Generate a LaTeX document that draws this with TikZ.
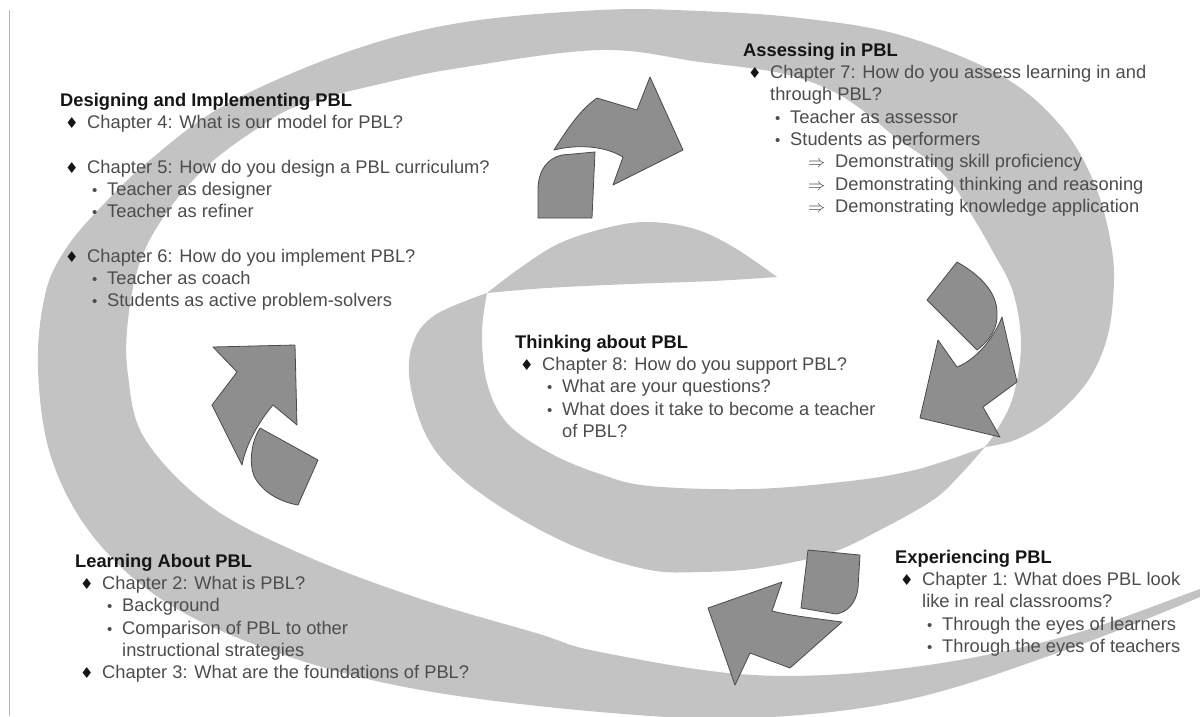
\documentclass[tikz,border=0pt]{standalone}
\usepackage{fontspec}
\setmainfont{Liberation Sans}
\newfontfamily\symfont{DejaVu Sans}

\definecolor{bandgray}{HTML}{C3C3C3}
\definecolor{arrowfill}{HTML}{8E8E8E}
\definecolor{arrowedge}{HTML}{4A4A4A}
\definecolor{bodytext}{HTML}{4C4C4C}
\definecolor{headtext}{HTML}{151515}
\definecolor{rulegray}{HTML}{B5B5B5}

% list markers and indents used in the text blocks
\newcommand\pbhead[1]{{\color{headtext}\bfseries #1}}
\newcommand\pbdia{\makebox[27pt][l]{\hspace*{5pt}{\color{headtext}\symfont\fontsize{15}{15}\selectfont ♦}}}
\newcommand\pbdot{\hspace*{32pt}\makebox[15pt][l]{{\fontsize{15}{15}\selectfont •}}}
\newcommand\pbimp{\hspace*{65pt}\makebox[27pt][l]{$\Rightarrow$}}
\newcommand\pbcont{\hspace*{27pt}}
\newcommand\pbsubcont{\hspace*{47pt}}

\begin{document}
\begin{tikzpicture}[x=1pt,y=-1pt,
  band/.style={fill=bandgray},
  arw/.style={fill=arrowfill,draw=arrowedge,line width=0.8pt,line join=round},
  blk/.style={anchor=north west,inner sep=0pt,align=left,text=bodytext,
    font=\fontsize{18.3}{22.3}\selectfont}]
\useasboundingbox (0,0) rectangle (1200,716);

% thin rule along the left edge
\coordinate (ruletop) at (9,10);
\coordinate (rulebot) at (9,716);
\draw[rulegray,line width=1pt] (ruletop) -- (rulebot);

% outer loop of the swirl: from the thin tail at the lower right, round the
% bottom, up the left, over the top and down the right to the twist
\fill[band] plot[smooth,tension=0.6] coordinates {
  (1270,563) (1200,597) (1060,652) (906,700) (750,718) (600,712) (421,690)
  (287,656) (172,606) (96,540) (52,460) (38,370) (45,295) (65,250) (100,208)
  (150,160) (225,105) (344,53) (459,23) (600,10) (700,11) (800,18) (900,35)
  (1000,75) (1060,125) (1095,185) (1112,250) (1113,300) (1105,345) (1085,385)
  (1050,420) (1015,440) (985,447)}
  -- plot[smooth,tension=0.6] coordinates {
  (985,447) (997,430) (1013,397) (1021,345) (1013,292) (992,250) (970,212)
  (953,185) (928,160) (895,137) (865,112) (830,90) (780,73) (700,62) (600,50)
  (459,68) (380,84) (300,105) (255,130) (205,168) (165,215) (140,262) (128,320)
  (128,375) (145,439) (210,506) (306,556) (421,599) (536,633) (600,652)
  (753,675) (906,668) (1059,638) (1200,589) (1270,563)} -- cycle;

% inner loop: from the twist along the bottom and up the left side
\fill[band] plot[smooth,tension=0.6] coordinates {
  (985,447) (960,475) (933,500) (880,530) (830,553) (760,568) (700,572)
  (650,570) (583,550) (517,517) (460,477) (427,437) (410,383) (413,343)
  (435,315) (487,293)}
  -- plot[smooth,tension=0.6] coordinates {
  (487,293) (482,333) (487,383) (507,423) (550,453) (600,474) (650,486)
  (753,489) (850,481) (906,472) (945,461) (985,447)} -- cycle;

% the tapering crescent that ends the swirl
\fill[band] plot[smooth,tension=0.6] coordinates {
  (487,293) (520,268) (560,243) (610,227) (650,222) (695,229) (735,248) (777,277)}
  -- plot[smooth,tension=0.6] coordinates {
  (777,277) (713,281) (630,284) (547,288) (487,293)} -- cycle;

% top arrow (towards the right)
\path[arw] (538,218) -- (538,190) .. controls (538,170) and (548,158) .. (562,155)
  -- (595,152) -- (592,218) -- cycle;
\path[arw] (554,150) .. controls (568,128) and (580,110) .. (597,98) -- (637,110)
  -- (650,77) -- (683,150) -- (613,185) -- (623,157)
  .. controls (605,146) and (578,144) .. (554,150) -- cycle;

% right arrow (down and to the left)
\path[arw] (927,300) -- (957,262) .. controls (980,275) and (997,292) .. (997,313)
  .. controls (998,328) and (990,340) .. (977,350) -- cycle;
\path[arw] (1002,317) -- (1017,382) -- (983,407) -- (1000,437) -- (920,418)
  -- (938,340) -- (957,367) .. controls (975,360) and (993,340) .. (1002,317) -- cycle;

% bottom arrow (towards the left)
\path[arw] (808,550) -- (860,555) -- (858,588) .. controls (856,603) and (848,612) .. (836,614)
  -- (801,608) -- cycle;
\path[arw] (842,622) .. controls (820,619) and (792,616) .. (772,611) -- (782,582)
  -- (708,608) -- (735,685) -- (750,653) -- (790,668) -- cycle;

% left arrow (upwards)
\path[arw] (213,347) -- (295,345) -- (297,425) -- (273,405)
  .. controls (262,418) and (247,440) .. (242,465) -- (212,405) -- (237,372) -- cycle;
\path[arw] (260,428) -- (318,460) -- (298,505) .. controls (280,502) and (262,492) .. (254,476)
  .. controls (249,463) and (251,442) .. (260,428) -- cycle;

% text blocks
\node[blk] (design) at (60,90.4) {\strut\pbhead{Designing and Implementing PBL}\\
  \pbdia Chapter 4: What is our model for PBL?\\[22.3pt]
  \pbdia Chapter 5: How do you design a PBL curriculum?\\
  \pbdot Teacher as designer\\
  \pbdot Teacher as refiner\\[22.3pt]
  \pbdia Chapter 6: How do you implement PBL?\\
  \pbdot Teacher as coach\\
  \pbdot Students as active problem-solvers};

\node[blk] (assess) at (743,40.4) {\strut\pbhead{Assessing in PBL}\\
  \pbdia Chapter 7: How do you assess learning in and\\
  \pbcont through PBL?\\
  \pbdot Teacher as assessor\\
  \pbdot Students as performers\\
  \pbimp Demonstrating skill proficiency\\
  \pbimp Demonstrating thinking and reasoning\\
  \pbimp Demonstrating knowledge application};

\node[blk] (think) at (515,332.4) {\strut\pbhead{Thinking about PBL}\\
  \pbdia Chapter 8: How do you support PBL?\\
  \pbdot What are your questions?\\
  \pbdot What does it take to become a teacher\\
  \pbsubcont of PBL?};

\node[blk] (learn) at (75,551.4) {\strut\pbhead{Learning About PBL}\\
  \pbdia Chapter 2: What is PBL?\\
  \pbdot Background\\
  \pbdot Comparison of PBL to other\\
  \pbsubcont instructional strategies\\
  \pbdia Chapter 3: What are the foundations of PBL?};

\node[blk] (experience) at (895,547.4) {\strut\pbhead{Experiencing PBL}\\
  \pbdia Chapter 1: What does PBL look\\
  \pbcont like in real classrooms?\\
  \pbdot Through the eyes of learners\\
  \pbdot Through the eyes of teachers};
\end{tikzpicture}
\end{document}
